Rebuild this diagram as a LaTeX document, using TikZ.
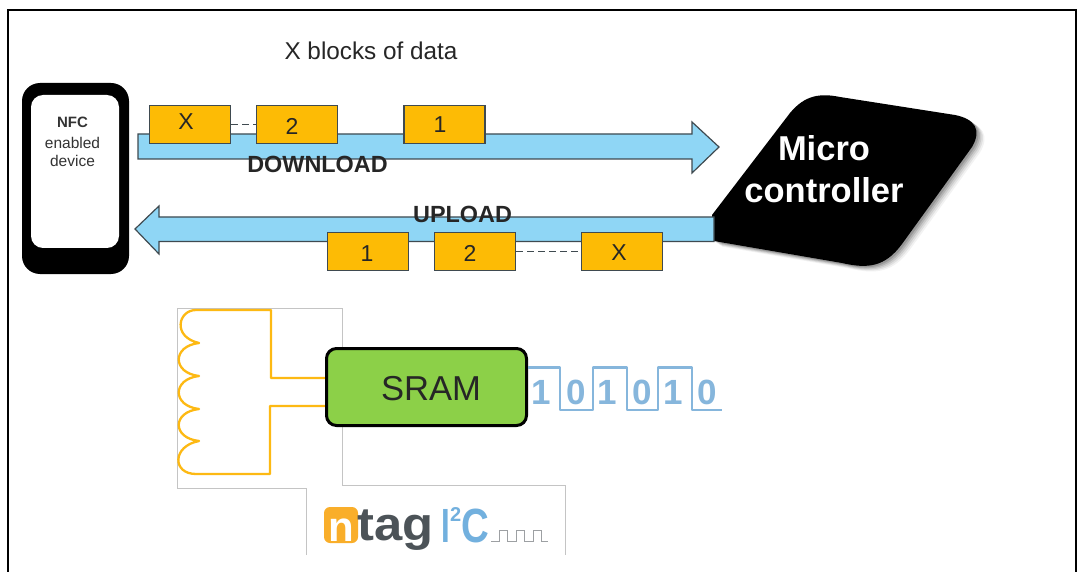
\documentclass[tikz,border=0pt]{standalone}
\usepackage{fontspec}
\setmainfont{Liberation Sans}
\newcommand{\pxf}[1]{\fontsize{#1}{#1}\selectfont}
\definecolor{gold}{HTML}{FDBB05}
\definecolor{skyb}{HTML}{8FD6F5}
\definecolor{edgeb}{HTML}{3F4A50}
\definecolor{coil}{HTML}{FDB913}
\definecolor{sramg}{HTML}{8CD048}
\definecolor{wave}{HTML}{86B6DC}
\definecolor{panel}{HTML}{C4C4C4}
\definecolor{logob}{HTML}{72B0DE}
\definecolor{logod}{HTML}{4C5358}
\definecolor{logoo}{HTML}{F9AE2A}
\tikzset{
  block/.style={draw=edgeb,line width=1.2pt,fill=gold,minimum width=81pt,minimum height=38.5pt,inner sep=0pt},
  blocktext/.style={inner sep=0pt,text=black!85,font=\pxf{23}},
  flow/.style={draw=edgeb,line width=1.2pt,fill=skyb,line join=miter},
  flowlabel/.style={font=\bfseries\pxf{23.4},text=black!85,inner sep=0pt},
  gap/.style={draw=edgeb,line width=1.5pt,dash pattern=on 7pt off 4pt},
  mcutext/.style={font=\bfseries\pxf{34.5},text=white,inner sep=0pt},
  digit/.style={font=\bfseries\pxf{35},text=wave,inner sep=0pt},
  phonetext/.style={font=\pxf{15.5},text=black!80,inner sep=0pt},
}
\begin{document}
\begin{tikzpicture}[x=1pt,y=-1pt]
\useasboundingbox (0,0) rectangle (1079,572);
\fill[white] (0,0) rectangle (1079,572);
% frame, open at the bottom
\draw[black,line width=2pt] (8,572) -- (8,10) -- (1076,10) -- (1076,572);

\node[inner sep=0pt,font=\pxf{24.3},text=black!85] (title) at (371,51) {X blocks of data};

% phone
\draw[fill=black,draw=none,rounded corners=18pt] (22,83) rectangle (129,274);
\node[fill=white,draw=none,rounded corners=12pt,minimum width=88pt,minimum height=153pt,inner sep=0pt] (screen) at (75,171.5) {};
\node[phonetext,font=\bfseries\pxf{15}] (nfc) at (72.5,122) {NFC};
\node[phonetext] (enabled) at (72.5,143) {enabled};
\node[phonetext] (device) at (72.5,161) {device};

% microcontroller: soft shadow, then body
\foreach \o/\a in {8/0.05,6.5/0.07,5/0.09,3.5/0.12,2/0.15}{
  \fill[black,opacity=\a,shift={(\o,\o*0.7)}] (712,215) -- (790,113) .. controls (805,95) and (820,93) .. (840,97) -- (955,115) .. controls (975,119) and (982,130) .. (972,147) -- (902,244) .. controls (885,267) and (868,269) .. (842,263) -- (714,241) -- cycle;
}
\fill[black] (712,215) -- (790,113) .. controls (805,95) and (820,93) .. (840,97) -- (955,115) .. controls (975,119) and (982,130) .. (972,147) -- (902,244) .. controls (885,267) and (868,269) .. (842,263) -- (714,241) -- cycle;
\node[mcutext] (micro) at (824,148) {Micro};
\node[mcutext] (controller) at (824,190) {controller};

% flow arrows
\draw[flow] (138,134) -- (692,134) -- (692,122) -- (719,147) -- (692,173) -- (692,159) -- (138,159) -- cycle;
\draw[flow] (714,217) -- (159,217) -- (159,206) -- (135,229) -- (159,254) -- (159,241.5) -- (714,241.5) -- cycle;

% blocks, download
\node[block,label={[blocktext,xshift=-4pt,yshift=2.5pt]center:X}] (dx) at (190,124.5) {};
\node[block,label={[blocktext,xshift=-5pt,yshift=-1.5pt]center:2}] (d2) at (297,124.5) {};
\node[block,label={[blocktext,xshift=-4.5pt,yshift=-0.5pt]center:1}] (d1) at (444.5,124.5) {};
\draw[gap] (dx) -- (d2);
\node[flowlabel] (download) at (317.5,164) {DOWNLOAD};

% blocks, upload
\node[block,label={[blocktext,xshift=-1pt,yshift=-2.5pt]center:1}] (u1) at (368,251.5) {};
\node[block,label={[blocktext,xshift=-5pt,yshift=-1.5pt]center:2}] (u2) at (475,251.5) {};
\node[block,label={[blocktext,xshift=-3pt,yshift=-1.5pt]center:X}] (ux) at (622,251.5) {};
\draw[gap] (u2) -- (ux);
\node[flowlabel] (upload) at (462.5,214) {UPLOAD};

% panel with coil
\draw[panel,line width=0.8pt] (306,555) -- (306,488) -- (177,488) -- (177,308) -- (342,308) -- (342,485) -- (565,485) -- (565,555);
\coordinate (coilA) at (326,378);
\coordinate (coilB) at (326,406);
\draw[coil,line width=2.3pt,line join=round] (coilA) -- (271,378) -- (271,310) -- (196,310)
  .. controls (178,310) and (172,337) .. (199,343)
  .. controls (172,346) and (172,373) .. (199,376)
  .. controls (172,379) and (172,406) .. (199,409)
  .. controls (172,412) and (172,438) .. (199,441)
  .. controls (172,446) and (172,474) .. (196,474)
  -- (270,474) -- (270,406) -- (coilB);

% SRAM
\node[draw=black,line width=3pt,fill=sramg,rounded corners=10pt,minimum width=200pt,minimum height=77pt,inner sep=0pt,label={[inner sep=0pt,font=\pxf{34.6},text=black!85,xshift=4.5pt,yshift=-1.5pt]center:SRAM}] (sram) at (426.5,387) {};

% bit stream
\coordinate (wend) at (722,410);
\draw[wave,line width=2.4pt,line join=round] (sram.east |- 0,367.5) -- (560,367.5) -- (560,410) -- (593,410) -- (593,367.5) -- (627,367.5) -- (627,410) -- (658,410) -- (658,367.5) -- (692,367.5) -- (692,410) -- (wend);
\node[digit] (b1) at (541,392) {1};
\node[digit] (b2) at (576,392) {0};
\node[digit] (b3) at (607,392) {1};
\node[digit] (b4) at (642,392) {0};
\node[digit] (b5) at (673,392) {1};
\node[digit] (b6) at (707,392) {0};

% logo
\fill[logoo,rounded corners=6pt] (324,507) rectangle (358,543);
\node[anchor=base,inner sep=0pt,font=\bfseries\pxf{42},text=white] (logon) at (341,541) {n};
\node[anchor=base west,inner sep=0pt,font=\bfseries\pxf{47},text=logod,xscale=1.08] (logotag) at (357,540) {tag};
\node[anchor=base west,inner sep=0pt,font=\bfseries\pxf{48},text=logob,xscale=0.65] (logoi) at (441,542) {I};
\node[anchor=base west,inner sep=0pt,font=\bfseries\pxf{20},text=logob] (logotwo) at (450,521) {2};
\node[anchor=base west,inner sep=0pt,font=\bfseries\pxf{48},text=logob,xscale=0.8] (logoc) at (461,542) {C};
\draw[logod!55,line width=1pt] (491,541) -- (499,541) -- (499,530) -- (507,530) -- (507,541) -- (516,541) -- (516,530) -- (524,530) -- (524,541) -- (533,541) -- (533,530) -- (541,530) -- (541,541) -- (548,541);
\end{tikzpicture}
\end{document}
